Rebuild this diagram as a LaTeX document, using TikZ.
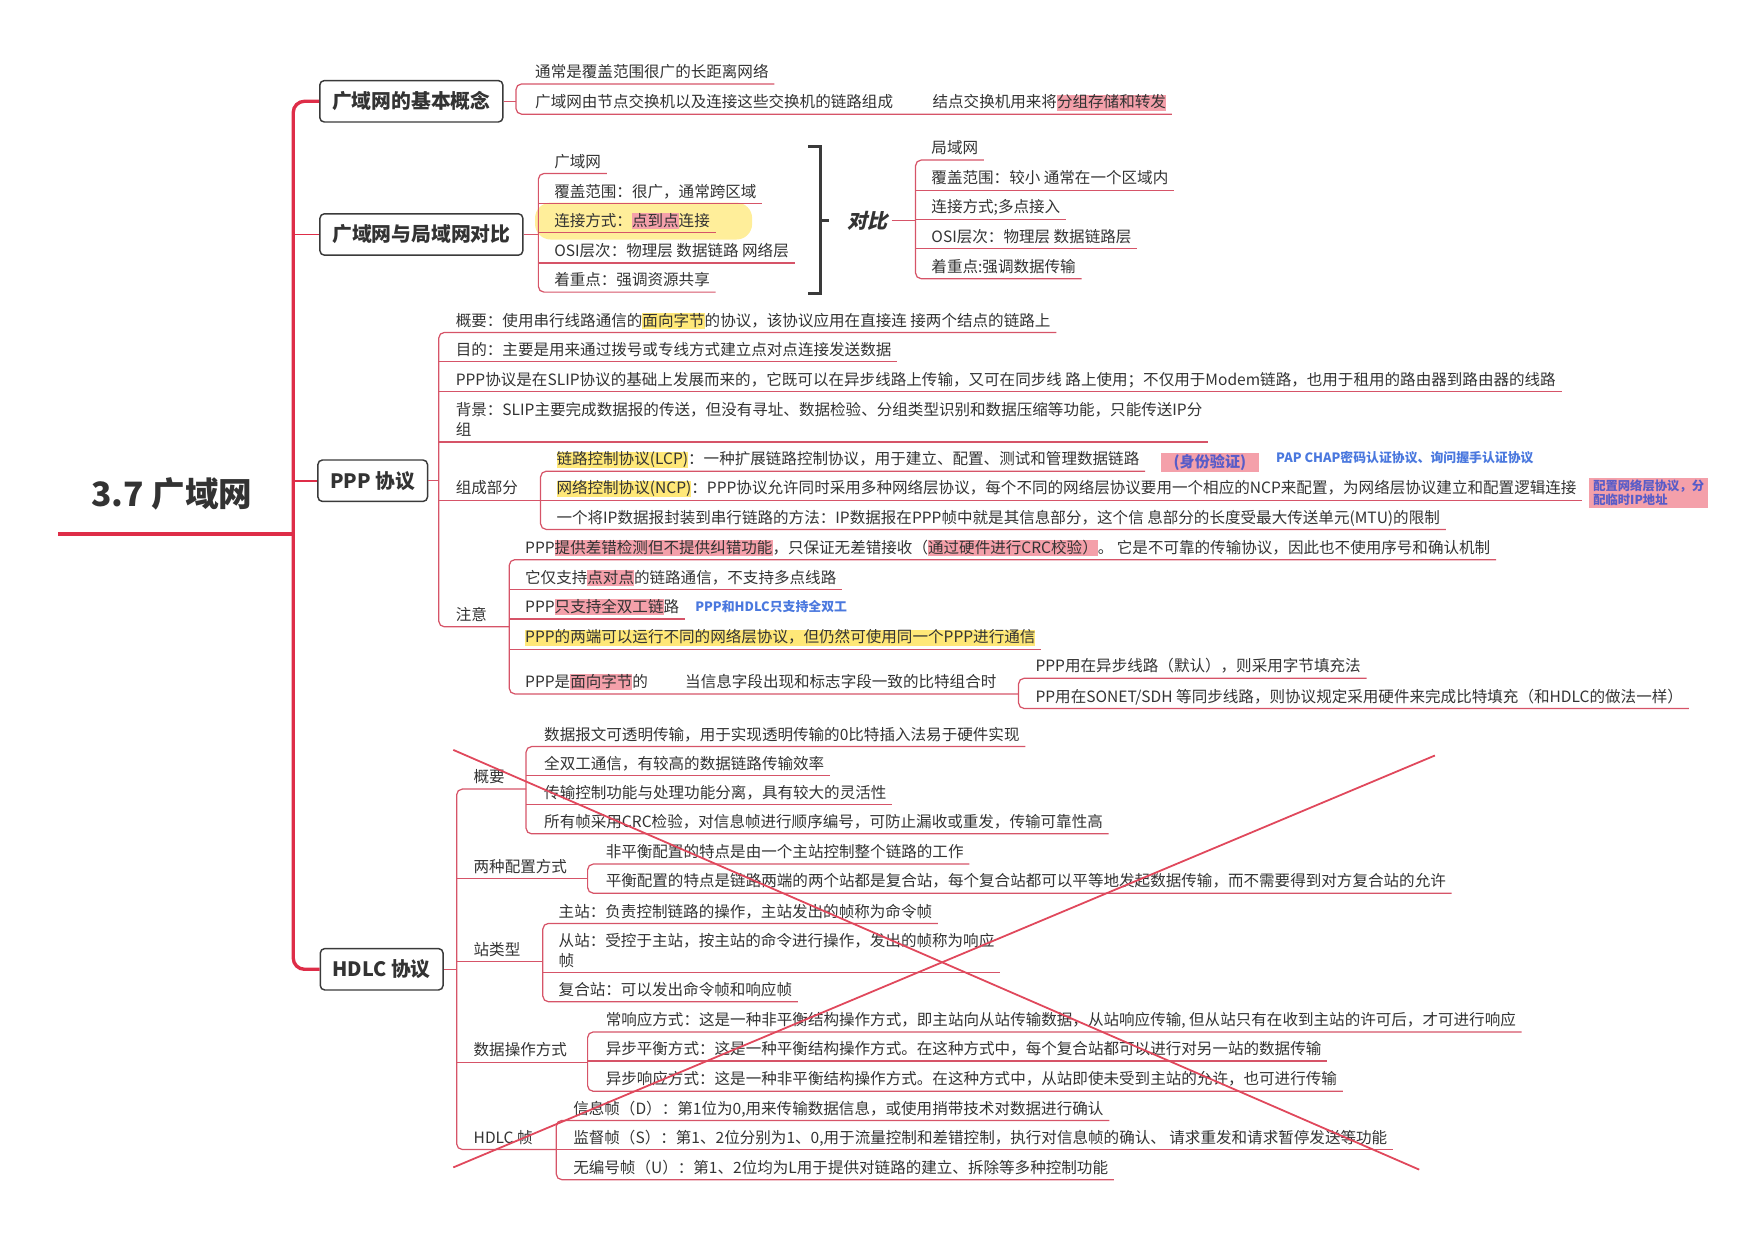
\documentclass[tikz,border=0pt]{standalone}
\usepackage{fontspec}
\setmainfont{Noto Sans CJK SC}
\newfontfamily\slfont{Noto Sans CJK SC}[FakeSlant=0.22]
\usepackage{xcolor}
\usepackage{tikz}
\usetikzlibrary{calc}

\definecolor{txt}{RGB}{51,51,51}
\definecolor{boxgray}{RGB}{58,58,58}
\definecolor{spinered}{RGB}{222,45,72}
\definecolor{linered}{RGB}{214,84,104}
\definecolor{hlyellow}{RGB}{255,232,120}
\definecolor{hlpink}{RGB}{244,160,170}
\definecolor{noteblue}{RGB}{74,120,222}
\definecolor{authblue}{RGB}{88,92,200}
\definecolor{xred}{RGB}{224,72,92}

\tikzstyle{topic} = [draw=boxgray, line width=1.3pt, rounded corners=4pt, fill=white, text=txt, font=\fontsize{17.7}{20}\selectfont\bfseries, minimum height=37pt, inner xsep=11pt]
\tikzstyle{item} = [anchor=south west, inner xsep=5pt, inner ysep=2.5pt, text height=11pt, text depth=3pt, text=txt, font=\fontsize{13.9}{17}\selectfont]
\tikzstyle{branch} = [draw=linered, line width=1.1pt]
\tikzstyle{spine} = [draw=spinered, line width=3pt]
\tikzstyle{bracket} = [draw=boxgray, line width=2.6pt]
\tikzstyle{note} = [anchor=west, text=noteblue, font=\fontsize{11.5}{13}\selectfont\bfseries, inner sep=1pt]

% 高亮
\newcommand\hly[1]{{\setlength\fboxsep{0pt}\colorbox{hlyellow}{\rule[-2.5pt]{0pt}{13pt}#1}}}
\newcommand\hlp[1]{{\setlength\fboxsep{0pt}\colorbox{hlpink}{\rule[-2.5pt]{0pt}{13pt}#1}}}

\begin{document}
\begin{tikzpicture}[x=1pt, y=-1pt]
\useasboundingbox (0,0) rectangle (1568,1108);

% 竖线位置
\coordinate (sp) at (262,0);
\coordinate (b1) at (461,0);
\coordinate (b2) at (481,0);
\coordinate (b3) at (818,0);
\coordinate (b4) at (392,0);
\coordinate (b5) at (483,0);
\coordinate (b6) at (455,0);
\coordinate (b7) at (910,0);
\coordinate (b8) at (408,0);
\coordinate (b9) at (470,0);
\coordinate (b10) at (525,0);
\coordinate (b11) at (485,0);
\coordinate (b12) at (525,0);
\coordinate (b13) at (497,0);

% 中心主题
\node[text=txt, font=\fontsize{30}{34}\selectfont\bfseries] (root) at (153.5,441) {3.7 广域网};
\coordinate (rootend) at (52,477);
\draw[spine, line width=4pt] (rootend) -- (sp |- rootend);

% 一级主题
\node[topic] (t1) at (367.5,90.5) {广域网的基本概念};
\node[topic] (t2) at (376.5,209.5) {广域网与局域网对比};
\node[topic] (t3) at (333,429.5) {PPP 协议};
\node[topic] (t4) at (341,866) {HDLC 协议};
\draw[spine, rounded corners=10pt] (t1.west) -- (sp |- t1.west) -- (sp |- t4.west) -- (t4.west);
\draw[spine, line width=1.5pt] (t2.west) -- (sp |- t2.west);
\draw[spine, line width=1.5pt] (t3.west) -- (sp |- t3.west);

% 基本概念
\node[item] (n11) at (473,75) {通常是覆盖范围很广的长距离网络};
\node[item] (n12) at (473,102) {广域网由节点交换机以及连接这些交换机的链路组成};
\node[item] (n121) at (828,102) {结点交换机用来将\hlp{分组存储和转发}};
\draw[branch] (t1.east) -- (b1 |- t1.east);
\draw[branch, rounded corners=5pt] (n11.south east) -- (b1 |- n11.south) -- (b1 |- n12.south) -- (n121.south east);

% 广域网与局域网对比
\fill[hlyellow, opacity=0.75, rounded corners=14pt] (478,181) rectangle (672,214);
\node[item] (n21) at (490,155) {广域网};
\node[item] (n22) at (490,182) {覆盖范围：很广，通常跨区域};
\node[item] (n23) at (490,208) {连接方式：\hlp{点到点}连接};
\node[item] (n24) at (490,235) {OSI层次：物理层 数据链路 网络层};
\node[item] (n25) at (490,261) {着重点：强调资源共享};
\draw[branch] (t2.east) -- (b2 |- t2.east);
\draw[branch, rounded corners=5pt] (n21.south east) -- (b2 |- n21.south) -- (b2 |- n25.south) -- (n25.south east);
\foreach \n in {n22,n23,n24} \draw[branch] (b2 |- \n.south) -- (\n.south east);

% 对比括号
\coordinate (kt) at (722,131);
\coordinate (kb) at (722,262);
\coordinate (kx) at (733,197);
\coordinate (km) at (741,197);
\draw[bracket] (kt) -| (kx) |- (kb);
\draw[bracket] (kx) -- (km);
\node[text=txt, font=\slfont\bfseries\fontsize{18}{20}\selectfont] (vs) at (775,197) {对比};

\node[item] (n31) at (827,143) {局域网};
\node[item] (n32) at (827,170) {覆盖范围：较小 通常在一个区域内};
\node[item] (n33) at (827,196) {连接方式;多点接入};
\node[item] (n34) at (827,222) {OSI层次：物理层 数据链路层};
\node[item] (n35) at (827,249) {着重点:强调数据传输};
\draw[branch] (vs.east) -- (b3 |- vs.east);
\draw[branch, rounded corners=5pt] (n31.south east) -- (b3 |- n31.south) -- (b3 |- n35.south) -- (n35.south east);
\foreach \n in {n32,n33,n34} \draw[branch] (b3 |- \n.south) -- (\n.south east);

% PPP 协议
\node[item] (p1) at (402,297) {概要：使用串行线路通信的\hly{面向字节}的协议，该协议应用在直接连 接两个结点的链路上};
\node[item] (p2) at (402,323) {目的：主要是用来通过拨号或专线方式建立点对点连接发送数据};
\node[item] (p3) at (402,350) {PPP协议是在SLIP协议的基础上发展而来的，它既可以在异步线路上传输，又可在同步线 路上使用；不仅用于Modem链路，也用于租用的路由器到路由器的线路};
\node[item] (p4a) at (402,377) {背景：SLIP主要完成数据报的传送，但没有寻址、数据检验、分组类型识别和数据压缩等功能，只能传送IP分};
\node[item] (p4b) at (402,395) {组};
\node[item] (p5) at (402,447) {组成部分};
\node[item] (p6) at (402,560) {注意};
\draw[branch] (t3.east) -- (b4 |- t3.east);
\draw[branch, rounded corners=5pt] (p1.south east) -- (b4 |- p1.south) -- (b4 |- p6.south) -- (b6 |- p6.south);
\foreach \n in {p2,p3} \draw[branch] (b4 |- \n.south) -- (\n.south east);
\draw[branch] (b4 |- p4b.south) -- (p4a.south east |- p4b.south);
\draw[branch] (b4 |- p5.south) -- (b5 |- p5.south);

% 组成部分
\node[item] (c1) at (492,421) {\hly{链路控制协议(LCP)}：一种扩展链路控制协议，用于建立、配置、测试和管理数据链路};
\node[item] (c2) at (492,447) {\hly{网络控制协议(NCP)}：PPP协议允许同时采用多种网络层协议，每个不同的网络层协议要用一个相应的NCP来配置，为网络层协议建立和配置逻辑连接};
\node[item] (c3) at (492,473) {一个将IP数据报封装到串行链路的方法：IP数据报在PPP帧中就是其信息部分，这个信 息部分的长度受最大传送单元(MTU)的限制};
\draw[branch, rounded corners=5pt] (c1.south east) -- (b5 |- c1.south) -- (b5 |- c3.south) -- (c3.south east);
\draw[branch] (b5 |- c2.south) -- (c2.south east);
\node[fill=hlpink, text=authblue, font=\fontsize{13.5}{15}\selectfont\bfseries, minimum width=88pt, minimum height=17pt, inner sep=0pt] (auth) at (1081,413) {(身份验证)};
\node[note] (pap) at (1139,409) {PAP CHAP密码认证协议、询问握手认证协议};
\node[fill=hlpink, text=authblue, font=\fontsize{11}{12.5}\selectfont\bfseries, minimum width=106pt, minimum height=27pt, inner sep=1pt, align=left] (ncpnote) at (1473,440.5) {配置网络层协议，分\\配临时IP地址};

% 注意
\node[item] (a1) at (464,500) {PPP\hlp{提供差错检测但不提供纠错功能}，只保证无差错接收（\hlp{通过硬件进行CRC校验）}。 它是不可靠的传输协议，因此也不使用序号和确认机制};
\node[item] (a2) at (464,527) {它仅支持\hlp{点对点}的链路通信，不支持多点线路};
\node[item] (a3) at (464,553) {PPP\hlp{只支持全双工链}路};
\node[note] (dup) at (620,542) {PPP和HDLC只支持全双工};
\node[item] (a4) at (464,580) {\hly{PPP的两端可以运行不同的网络层协议，但仍然可使用同一个PPP进行通信}};
\node[item] (a5) at (464,620) {PPP是\hlp{面向字节}的};
\node[item] (a6) at (607,620) {当信息字段出现和标志字段一致的比特组合时};
\draw[branch, rounded corners=5pt] (a1.south east) -- (b6 |- a1.south) -- (b6 |- a5.south) -- (b7 |- a5.south);
\foreach \n in {a2,a3,a4} \draw[branch] (b6 |- \n.south) -- (\n.south east);

\node[item] (a51) at (920,606) {PPP用在异步线路（默认），则采用字节填充法};
\node[item] (a52) at (920,633) {PP用在SONET/SDH 等同步线路，则协议规定采用硬件来完成比特填充（和HDLC的做法一样）};
\draw[branch, rounded corners=5pt] (a51.south east) -- (b7 |- a51.south) -- (b7 |- a52.south) -- (a52.south east);

% HDLC 协议
\node[item] (h1) at (418,705) {概要};
\node[item] (h2) at (418,785) {两种配置方式};
\node[item] (h3) at (418,859) {站类型};
\node[item] (h4) at (418,949) {数据操作方式};
\node[item] (h5) at (418,1027) {HDLC 帧};
\draw[branch] (t4.east) -- (b8 |- t4.east);
\draw[branch, rounded corners=5pt] (b9 |- h1.south) -- (b8 |- h1.south) -- (b8 |- h5.south) -- (b13 |- h5.south);
\draw[branch] (b8 |- h2.south) -- (b10 |- h2.south);
\draw[branch] (b8 |- h3.south) -- (b11 |- h3.south);
\draw[branch] (b8 |- h4.south) -- (b12 |- h4.south);

% 概要
\node[item] (g1) at (481,667) {数据报文可透明传输，用于实现透明传输的0比特插入法易于硬件实现};
\node[item] (g2) at (481,693) {全双工通信，有较高的数据链路传输效率};
\node[item] (g3) at (481,719) {传输控制功能与处理功能分离，具有较大的灵活性};
\node[item] (g4) at (481,745) {所有帧采用CRC检验，对信息帧进行顺序编号，可防止漏收或重发，传输可靠性高};
\draw[branch, rounded corners=5pt] (g1.south east) -- (b9 |- g1.south) -- (b9 |- g4.south) -- (g4.south east);
\foreach \n in {g2,g3} \draw[branch] (b9 |- \n.south) -- (\n.south east);

% 两种配置方式
\node[item] (k1) at (536,772) {非平衡配置的特点是由一个主站控制整个链路的工作};
\node[item] (k2) at (536,798) {平衡配置的特点是链路两端的两个站都是复合站，每个复合站都可以平等地发起数据传输，而不需要得到对方复合站的允许};
\draw[branch, rounded corners=5pt] (k1.south east) -- (b10 |- k1.south) -- (b10 |- k2.south) -- (k2.south east);

% 站类型
\node[item] (s1) at (494,825) {主站：负责控制链路的操作，主站发出的帧称为命令帧};
\node[item] (s2a) at (494,851) {从站：受控于主站，按主站的命令进行操作，发出的帧称为响应};
\node[item] (s2b) at (494,869) {帧};
\node[item] (s3) at (494,895) {复合站：可以发出命令帧和响应帧};
\draw[branch, rounded corners=5pt] (s1.south east) -- (b11 |- s1.south) -- (b11 |- s3.south) -- (s3.south east);
\draw[branch] (b11 |- s2b.south) -- (s2a.south east |- s2b.south);

% 数据操作方式
\node[item] (m1) at (536,922) {常响应方式：这是一种非平衡结构操作方式，即主站向从站传输数据，从站响应传输, 但从站只有在收到主站的许可后，才可进行响应};
\node[item] (m2) at (536,948) {异步平衡方式：这是一种平衡结构操作方式。在这种方式中，每个复合站都可以进行对另一站的数据传输};
\node[item] (m3) at (536,975) {异步响应方式：这是一种非平衡结构操作方式。在这种方式中，从站即使未受到主站的允许，也可进行传输};
\draw[branch, rounded corners=5pt] (m1.south east) -- (b12 |- m1.south) -- (b12 |- m3.south) -- (m3.south east);
\draw[branch] (b12 |- m2.south) -- (m2.south east);

% HDLC 帧
\node[item] (f1) at (507,1001) {信息帧（D）：第1位为0,用来传输数据信息，或使用捎带技术对数据进行确认};
\node[item] (f2) at (507,1027) {监督帧（S）：第1、2位分别为1、0,用于流量控制和差错控制，执行对信息帧的确认、 请求重发和请求暂停发送等功能};
\node[item] (f3) at (507,1054) {无编号帧（U）：第1、2位均为L用于提供对链路的建立、拆除等多种控制功能};
\draw[branch, rounded corners=5pt] (f1.south east) -- (b13 |- f1.south) -- (b13 |- f3.south) -- (f3.south east);
\draw[branch] (b13 |- f2.south) -- (f2.south east);

% 红色叉
\coordinate (x1) at (405,670);
\coordinate (x2) at (1268,1045);
\coordinate (x3) at (405,1043);
\coordinate (x4) at (1282,675);
\draw[xred, line width=1.6pt] (x1) -- (x2);
\draw[xred, line width=1.6pt] (x3) -- (x4);

\end{tikzpicture}
\end{document}
